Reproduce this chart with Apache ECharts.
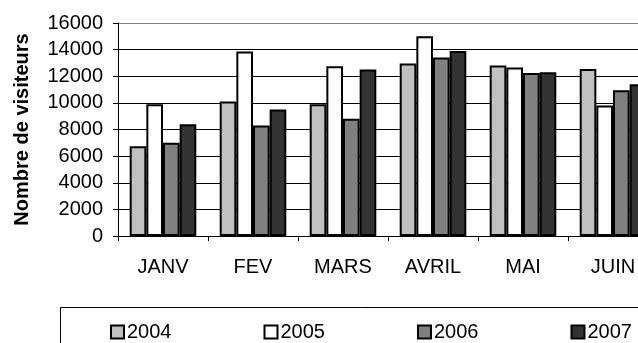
<!DOCTYPE html>
<html>
<head>
<meta charset="utf-8">
<script src="https://cdn.jsdelivr.net/npm/echarts@6/dist/echarts.min.js"></script>
<style>
  html, body { margin: 0; padding: 0; background: #fff; overflow: hidden; }
  #chart { width: 662px; height: 343px; }
</style>
</head>
<body>
<div id="chart"></div>
<script>
// Monthly visitor counts per year
const months = ['JANV', 'FEV', 'MARS', 'AVRIL', 'MAI', 'JUIN'];
const years = ['2004', '2005', '2006', '2007'];
const visits2004 = [6750, 10100, 9900, 12950, 12800, 12550];
const visits2005 = [9900, 13850, 12750, 15000, 12650, 9800];
const visits2006 = [7000, 8300, 8800, 13400, 12250, 10950];
const visits2007 = [8400, 9500, 12500, 13900, 12300, 11400];
const yTicks = [0, 2000, 4000, 6000, 8000, 10000, 12000, 14000, 16000];

const fills = ['#c0c0c0', '#ffffff', '#808080', '#333333'];
const seriesValues = [visits2004, visits2005, visits2006, visits2007];
const font = '"Liberation Sans", Arial, sans-serif';

const chart = echarts.init(document.getElementById('chart'), null, { renderer: 'canvas' });

chart.setOption({
  animation: false,
  backgroundColor: '#ffffff',
  textStyle: { fontFamily: font },
  grid: { left: 118, top: 23, width: 540, height: 213, containLabel: false },
  legend: {
    data: years,
    left: 105,
    top: 317,
    orient: 'horizontal',
    icon: 'rect',
    itemWidth: 13,
    itemHeight: 13,
    itemGap: 92,
    textStyle: { fontSize: 20, color: '#000', fontFamily: font, padding: [0, 0, 0, -2] }
  },
  xAxis: {
    type: 'category',
    data: months,
    axisLine: { lineStyle: { color: '#000', width: 1 } },
    axisTick: { show: true, length: 5, alignWithLabel: false, lineStyle: { color: '#000' } },
    axisLabel: { fontSize: 20, color: '#000', margin: 21, fontFamily: font },
    splitLine: { show: false }
  },
  yAxis: {
    type: 'value',
    min: yTicks[0],
    max: yTicks[yTicks.length - 1],
    interval: yTicks[1] - yTicks[0],
    name: 'Nombre de visiteurs',
    nameLocation: 'middle',
    nameGap: 86,
    nameTextStyle: { fontSize: 20, fontWeight: 'bold', color: '#000', fontFamily: font },
    axisLine: { show: true, lineStyle: { color: '#000', width: 1 } },
    axisTick: { show: true, length: 5, lineStyle: { color: '#000' } },
    axisLabel: { fontSize: 20, color: '#000', margin: 15, fontFamily: font, formatter: v => String(v) },
    splitLine: {
      show: true,
      lineStyle: {
        color: ['#000', '#000', '#000', '#000', '#000', '#000', '#000', '#000', '#808080'],
        width: 1
      }
    }
  },
  graphic: [{
    type: 'rect',
    shape: { x: 60.5, y: 307.5, width: 700, height: 80 },
    style: { fill: 'none', stroke: '#000', lineWidth: 1 },
    z: -1
  }],
  series: years.map((y, i) => ({
    name: y,
    type: 'bar',
    data: seriesValues[i],
    barGap: '0%',
    barCategoryGap: '26%',
    itemStyle: { color: fills[i], borderColor: '#000', borderWidth: 2 }
  }))
});
</script>
</body>
</html>
